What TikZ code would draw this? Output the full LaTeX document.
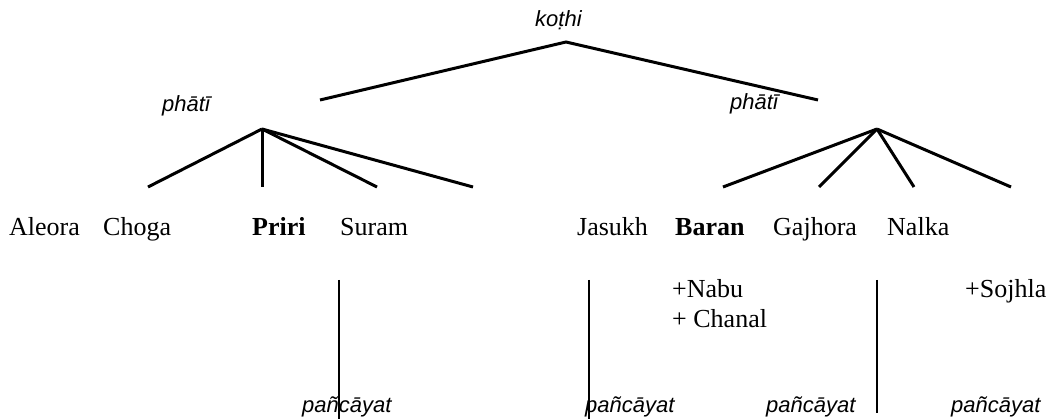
\documentclass[tikz,border=0pt]{standalone}
\usepackage{fontspec}
\setmainfont{Liberation Serif}
\newfontfamily\labelfont{Liberation Sans}
\begin{document}
\begin{tikzpicture}[x=1pt,y=-1pt,
  person/.style={anchor=base west,inner sep=0pt,font=\fontsize{26}{30}\selectfont},
  bperson/.style={anchor=base west,inner sep=0pt,font=\fontsize{26}{30}\selectfont\bfseries},
  lab/.style={anchor=base west,inner sep=0pt,font=\labelfont\itshape\fontsize{22}{26}\selectfont},
  branch/.style={line width=3pt},
  stem/.style={line width=1.2pt}]
\useasboundingbox (0,0) rectangle (1052,419);
% labels
\node[lab] (kothi) at (535,27) {koṭhi};
\node[lab] (phatiL) at (162,112) {phātī};
\node[lab] (phatiR) at (730,110) {phātī};
% tree coordinates
\coordinate (top) at (566,42);
\coordinate (topL) at (320,100);
\coordinate (topR) at (818,100);
\coordinate (apL) at (262,129);
\coordinate (l1) at (148,187);
\coordinate (l2) at (262,187);
\coordinate (l3) at (377,187);
\coordinate (l4) at (473,187);
\coordinate (apR) at (877,129);
\coordinate (r1) at (723,187);
\coordinate (r2) at (819,187);
\coordinate (r3) at (914,187);
\coordinate (r4) at (1011,187);
\draw[branch] (topL) -- (top) -- (topR);
\foreach \e in {l1,l2,l3,l4} \draw[branch] (apL) -- (\e);
\foreach \e in {r1,r2,r3,r4} \draw[branch] (apR) -- (\e);
% names
\node[person] (aleora) at (9,236) {Aleora};
\node[person] (choga) at (103,236) {Choga};
\node[bperson] (priri) at (252,236) {Priri};
\node[person] (suram) at (340,236) {Suram};
\node[person] (jasukh) at (577,236) {Jasukh};
\node[bperson] (baran) at (675,236) {Baran};
\node[person] (gajhora) at (773,236) {Gajhora};
\node[person] (nalka) at (887,236) {Nalka};
\node[person] (nabu) at (672,298) {+Nabu};
\node[person] (chanal) at (672,328) {+ Chanal};
\node[person] (sojhla) at (965,298) {+Sojhla};
% panchayat labels
\node[lab] (p1) at (302,413) {pañcāyat};
\node[lab] (p2) at (585,413) {pañcāyat};
\node[lab] (p3) at (766,413) {pañcāyat};
\node[lab] (p4) at (951,413) {pañcāyat};
% stems
\coordinate (s1t) at (339,280); \coordinate (s1b) at (339,419);
\coordinate (s2t) at (589,280); \coordinate (s2b) at (589,419);
\coordinate (s3t) at (877,280); \coordinate (s3b) at (877,413);
\draw[stem] (s1t) -- (s1b);
\draw[stem] (s2t) -- (s2b);
\draw[stem] (s3t) -- (s3b);
\end{tikzpicture}
\end{document}
